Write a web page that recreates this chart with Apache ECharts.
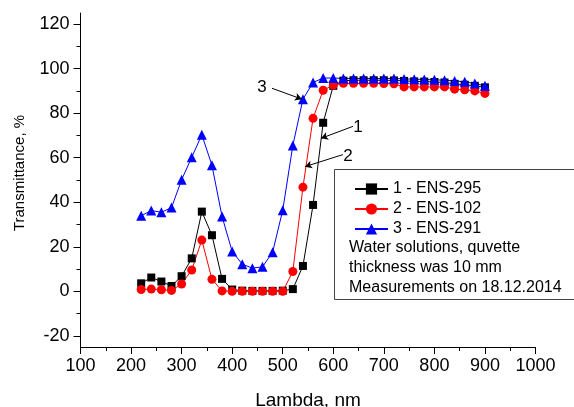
<!DOCTYPE html>
<html>
<head>
<meta charset="utf-8">
<script src="https://cdn.jsdelivr.net/npm/echarts@6/dist/echarts.min.js"></script>
<style>html,body{margin:0;padding:0;background:#fff}#c{width:574px;height:407px}</style>
</head>
<body>
<div id="c"></div>
<script>
var lambda = [220,240,260,280,300,320,340,360,380,400,420,440,460,480,500,520,540,560,580,600,620,640,660,680,700,720,740,760,780,800,820,840,860,880,900];
var ens295 = [3.6,6.2,4.4,2.4,6.8,14.8,35.8,25.2,5.6,0.8,0.3,0.2,0.2,0.2,0.3,1.0,11.4,38.8,75.7,92.3,94.6,94.8,94.8,94.8,94.8,94.7,94.5,94.3,94.2,94.0,93.8,93.2,92.8,92.3,91.6];
var ens102 = [0.8,1.0,0.7,0.4,3.3,9.6,23.0,5.4,0.2,0.0,0.0,0.0,0.0,0.0,0.0,8.9,46.8,77.7,90.3,92.6,93.4,93.4,93.4,93.4,93.3,93.2,91.8,91.8,91.8,91.8,91.8,90.8,90.5,90.0,88.9];
var ens291 = [33.9,36.3,35.5,37.6,50.1,60.2,70.3,56.6,33.6,17.9,12.2,10.4,11.0,17.6,36.4,65.5,86.3,93.8,95.8,95.8,95.6,95.6,95.6,95.6,95.6,95.6,95.4,95.3,95.1,95.0,94.8,94.5,94.1,93.3,92.3];
var seriesNames = ['1 - ENS-295','2 - ENS-102','3 - ENS-291'];
var noteLines = ['Water solutions, quvette','thickness was 10 mm','Measurements on 18.12.2014'];
var xTicks = [100,200,300,400,500,600,700,800,900,1000];
var yMajor = [-20,0,20,40,60,80,100,120];
var yMinor = [-10,10,30,50,70,90,110];
// annotation arrows (data space)
var arrows = [
  {label:'1', from:[639,74.1], to:[575.7,68.7], at:[649,73.6]},
  {label:'2', from:[619,61.4], to:[544,56.0], at:[629,60.5]},
  {label:'3', from:[478.8,91.2], to:[538,86.3], at:[459,91.7]}
];

function pairs(vals){ return lambda.map(function(x,i){ return [x, vals[i]]; }); }

var font = 'Liberation Sans, Arial, sans-serif';
var chart = echarts.init(document.getElementById('c'), null, {renderer:'canvas'});

var axisLine = {show:true, onZero:false, lineStyle:{color:'#000', width:1}};
var option = {
  animation:false,
  backgroundColor:'#fff',
  textStyle:{fontFamily:font},
  grid:{left:80.5, right:38.5, top:13, bottom:60, containLabel:false, outerBoundsMode:'none'},
  legend:{
    orient:'vertical', left:349, top:176, itemWidth:33, itemHeight:14, itemGap:4,
    textStyle:{fontSize:16, color:'#000', fontFamily:font},
    data:seriesNames
  },
  xAxis:{
    type:'value', min:xTicks[0], max:xTicks[xTicks.length-1], interval:100,
    name:'Lambda, nm', nameLocation:'middle', nameGap:44,
    nameTextStyle:{fontSize:19, color:'#000', fontFamily:font},
    axisLine:axisLine,
    axisTick:{show:true, length:7, lineStyle:{color:'#000'}},
    minorTick:{show:true, splitNumber:2, length:4, lineStyle:{color:'#000'}},
    axisLabel:{fontSize:18, color:'#000', margin:10, fontFamily:font,
               formatter:function(v){ return String(v); }},
    splitLine:{show:false}
  },
  yAxis:[{
    type:'value', min:-25, max:125,
    name:'Transmittance, %', nameLocation:'middle', nameGap:53, nameRotate:90,
    nameTextStyle:{fontSize:15, color:'#000', fontFamily:font, padding:[0,0,0,14]},
    axisLine:axisLine,
    axisTick:{show:true, length:7, customValues:yMajor, lineStyle:{color:'#000'}},
    axisLabel:{fontSize:18, color:'#000', margin:11, customValues:yMajor, fontFamily:font},
    splitLine:{show:false}
  },{
    type:'value', min:-25, max:125, position:'left',
    axisLine:{show:false},
    axisTick:{show:true, length:4, customValues:yMinor, lineStyle:{color:'#000'}},
    axisLabel:{show:false},
    splitLine:{show:false}
  }],
  series:[
    {name:seriesNames[0], type:'line', data:pairs(ens295), symbol:'rect', symbolSize:8,
     color:'#000000', lineStyle:{width:1, color:'#000'}, itemStyle:{color:'#000'}},
    {name:seriesNames[1], type:'line', data:pairs(ens102), symbol:'circle', symbolSize:9,
     color:'#ff0000', lineStyle:{width:1, color:'#ff0000'}, itemStyle:{color:'#ff0000'}},
    {name:seriesNames[2], type:'line', data:pairs(ens291), symbol:'triangle', symbolSize:10,
     color:'#0000ff', lineStyle:{width:1, color:'#0000ff'}, itemStyle:{color:'#0000ff'},
     markLine:{
       silent:true, symbol:['none','arrow'], symbolSize:[6,7], animation:false,
       lineStyle:{color:'#000', width:1, type:'solid'}, label:{show:false},
       data:arrows.map(function(a){ return [{coord:a.from},{coord:a.to}]; })
     },
     markPoint:{
       silent:true, symbol:'circle', symbolSize:0, animation:false,
       label:{show:true, position:'inside', color:'#000', fontSize:17, fontFamily:font,
              formatter:function(p){ return p.name; }},
       data:arrows.map(function(a){ return {name:a.label, coord:a.at}; })
     }
    }
  ],
  graphic:[
    {type:'rect', left:332, top:167, shape:{width:241, height:130},
     style:{fill:'none', stroke:'#444', lineWidth:1}, z:0},
    {type:'text', left:349, top:238,
     style:{text:noteLines.join('\n'), font:'16px ' + font, fill:'#000', lineHeight:20}}
  ]
};
chart.setOption(option);
</script>
</body>
</html>
